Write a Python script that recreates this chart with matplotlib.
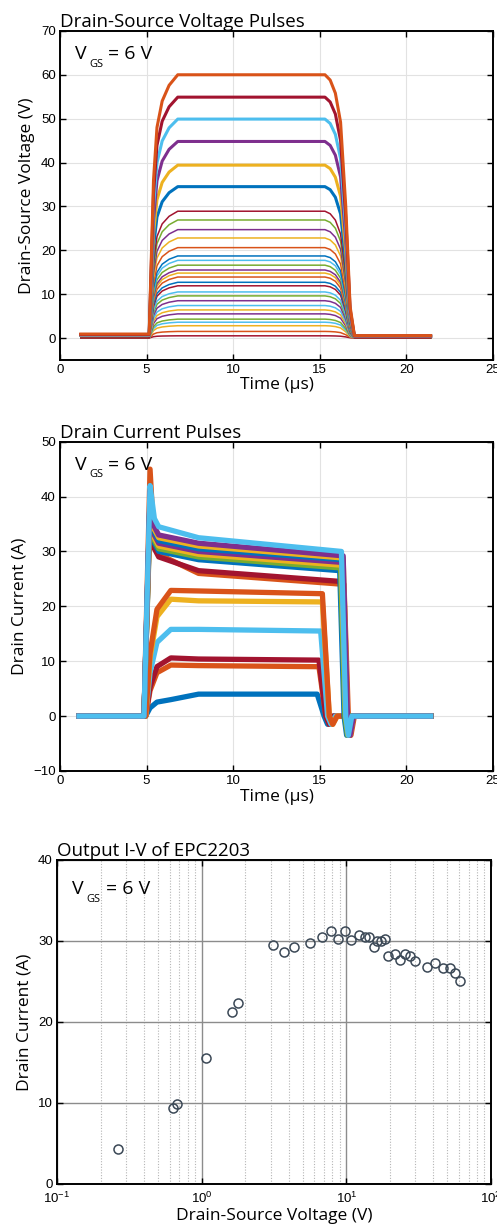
import numpy as np
import matplotlib
matplotlib.use("Agg")
import matplotlib.pyplot as plt
from matplotlib.transforms import offset_copy

plt.rcParams['font.family'] = ['Liberation Sans', 'DejaVu Sans']

LABEL_FONT = 'Open Sans'

# matlab colour order
BLU, ORA, YEL, PUR, GRN, LBL, DRD = ('#0072BD', '#D95319', '#EDB120', '#7E2F8E',
                                     '#77AC30', '#4DBEEE', '#A2142F')

# ---- drain-source voltage pulses (plateau levels, V) ----
vds_levels = [0.5, 1.5, 2.8, 3.6, 4.3, 5.5, 6.4, 7.4, 8.5, 9.6, 10.5, 11.9, 12.7,
              13.9, 14.8, 15.5, 16.6, 17.7, 18.7, 20.6, 22.8, 24.7, 26.9, 28.9,
              34.5, 39.4, 44.8, 49.9, 54.9, 60.0]
vds_colors = [DRD, ORA, YEL, LBL, GRN, PUR, YEL, LBL, PUR, GRN, LBL, DRD, BLU,
              ORA, YEL, PUR, GRN, LBL, BLU, ORA, YEL, PUR, GRN, DRD,
              BLU, YEL, PUR, LBL, DRD, ORA]
vds_base = [0.0] * 24 + [0.6, 0.6, 0.7, 0.7, 0.8, 0.9]
# shared pulse outline (time in us, fraction of plateau)
pulse_t = [1.2, 5.15, 5.25, 5.4, 5.6, 5.9, 6.3, 6.8, 15.3, 15.6, 15.9, 16.2,
           16.5, 16.75, 17.0, 21.4]
pulse_frac = [0.0, 0.0, 0.25, 0.6, 0.8, 0.9, 0.96, 1.0, 1.0, 0.98, 0.93, 0.82,
              0.5, 0.12, 0.0, 0.0]

# ---- drain current pulses (A) ----
# start of plateau, middle (t=8us), end (t~15us), fall time, spike peak
id_start = [3.0, 9.3, 10.6, 15.8, 21.3, 22.9, 29.5, 29.0, 30.0, 30.5, 31.0,
            31.5, 32.0, 32.5, 33.0, 34.5]
id_mid = [4.0, 9.2, 10.4, 15.8, 21.0, 22.8, 26.0, 26.5, 28.5, 29.0, 29.5,
          30.0, 30.5, 31.0, 31.5, 32.5]
id_end = [4.0, 9.0, 10.2, 15.5, 20.8, 22.3, 24.0, 24.5, 26.5, 27.0, 27.5,
          28.0, 28.5, 28.8, 29.2, 30.0]
id_fall = [15.0, 15.1, 15.1, 15.2, 15.3, 15.3, 16.55, 16.5, 16.3, 16.35, 16.4,
           16.45, 16.45, 16.5, 16.5, 16.4]
id_spike = [0, 0, 0, 0, 0, 0, 45, 40, 38, 36, 39, 37, 40, 38, 41, 42]
id_colors = [BLU, ORA, DRD, LBL, YEL, ORA, ORA, DRD, BLU, GRN, YEL, PUR, BLU,
             YEL, PUR, LBL]

# ---- output I-V ----
iv_vds = [0.265, 0.637, 0.675, 1.066, 1.63, 1.77, 3.09, 3.70, 4.36, 5.63, 6.78,
          7.79, 8.75, 9.84, 10.7, 12.2, 13.4, 14.4, 15.5, 16.3, 17.5, 18.4,
          19.5, 21.6, 23.4, 25.6, 27.6, 29.7, 36.4, 40.7, 46.5, 51.7, 56.3, 61.3]
iv_id = [4.3, 9.4, 9.9, 15.6, 21.2, 22.3, 29.5, 28.6, 29.2, 29.7, 30.5,
         31.2, 30.2, 31.2, 30.1, 30.7, 30.5, 30.5, 29.3, 30.0, 30.0, 30.2,
         28.2, 28.4, 27.7, 28.4, 28.2, 27.5, 26.8, 27.3, 26.7, 26.7, 26.0, 25.0]


def style_box(ax):
    for s in ax.spines.values():
        s.set_linewidth(1.4)
        s.set_color('black')
    ax.tick_params(direction='in', top=True, right=True, length=4, width=1,
                   labelsize=9.5, pad=3)


def vgs_label(ax, y):
    base = ax.transAxes
    ax.text(0.035, y, 'V', transform=base, fontsize=14, family=LABEL_FONT,
            va='baseline', ha='left')
    ax.text(0.035, y, 'GS', transform=offset_copy(base, fig, x=10.5, y=-5.5, units='points'),
            fontsize=8, family=LABEL_FONT, va='baseline', ha='left')
    ax.text(0.035, y, '= 6 V', transform=offset_copy(base, fig, x=24, y=0, units='points'),
            fontsize=14, family=LABEL_FONT, va='baseline', ha='left')


fig = plt.figure(figsize=(4.97, 12.31), dpi=100)

# -------- top: voltage pulses --------
ax1 = fig.add_axes([0.1207, 0.7076, 0.8712, 0.2673])
ax1.grid(True, color='#e2e2e2', lw=0.8)
ax1.set_axisbelow(True)
for lev, b, c in zip(vds_levels, vds_base, vds_colors):
    lw = 2.2 if lev > 30 else 1.1
    v = np.array(pulse_frac) * lev
    v[[0, 1]] = b
    v[[-2, -1]] = b * 0.6
    ax1.plot(pulse_t, v, color=c, lw=lw)
ax1.set_xlim(0, 25)
ax1.set_ylim(-5, 70)
ax1.set_xticks([0, 5, 10, 15, 20, 25])
ax1.set_yticks([0, 10, 20, 30, 40, 50, 60, 70])
style_box(ax1)
ax1.set_title('Drain-Source Voltage Pulses', loc='left', family=LABEL_FONT,
              fontsize=13.5, pad=3)
ax1.set_xlabel('Time (\u03bcs)', family=LABEL_FONT, fontsize=12.5, labelpad=1)
ax1.set_ylabel('Drain-Source Voltage (V)', family=LABEL_FONT, fontsize=12.5,
               labelpad=4)
vgs_label(ax1, 0.915)

# -------- middle: current pulses --------
ax2 = fig.add_axes([0.1207, 0.3737, 0.8712, 0.2675])
ax2.grid(True, color='#e2e2e2', lw=0.8)
ax2.set_axisbelow(True)
for a, m, e, tf, sp, c in zip(id_start, id_mid, id_end, id_fall, id_spike, id_colors):
    if sp:
        t = [1.1, 4.85, 5.2, 5.45, 5.7, 8.0, tf - 0.15, tf + 0.1, tf + 0.25, tf + 0.45, 21.4]
        v = [0.0, 0.0, sp, a + 1.5, a, m, e, 0.0, -3.5, 0.0, 0.0]
    else:
        t = [1.1, 4.95, 5.2, 5.6, 6.4, 8.0, tf - 0.15, tf + 0.25, tf + 0.45, tf + 0.7, 21.4]
        v = [0.0, 0.0, 0.5 * a, 0.85 * a, a, m, e, 0.0, -1.5, 0.0, 0.0]
    ax2.plot(t, v, color=c, lw=3.8, solid_joinstyle='round')
ax2.set_xlim(0, 25)
ax2.set_ylim(-10, 50)
ax2.set_xticks([0, 5, 10, 15, 20, 25])
ax2.set_yticks([-10, 0, 10, 20, 30, 40, 50])
style_box(ax2)
ax2.set_title('Drain Current Pulses', loc='left', family=LABEL_FONT,
              fontsize=13.5, pad=3)
ax2.set_xlabel('Time (\u03bcs)', family=LABEL_FONT, fontsize=12.5, labelpad=1)
ax2.set_ylabel('Drain Current (A)', family=LABEL_FONT, fontsize=12.5, labelpad=4)
vgs_label(ax2, 0.915)

# -------- bottom: output I-V --------
ax3 = fig.add_axes([0.1147, 0.0382, 0.8732, 0.2632])
ax3.set_xscale('log')
ax3.set_xlim(0.1, 100)
ax3.set_ylim(0, 40)
ax3.set_yticks([0, 10, 20, 30, 40])
ax3.grid(True, which='major', color='#8c8c8c', lw=1.0)
ax3.grid(True, which='minor', axis='x', color='#b5b5b5', lw=0.8, ls=(0, (1, 1.5)))
ax3.set_axisbelow(True)
ax3.plot(iv_vds, iv_id, 'o', ms=6.5, mfc='none', mec='#3b4856', mew=1.1)
style_box(ax3)
ax3.tick_params(which='minor', length=0)
ax3.tick_params(axis='x', pad=5)
ax3.set_title('Output I-V of EPC2203', loc='left', family=LABEL_FONT,
              fontsize=13.5, pad=3)
ax3.set_xlabel('Drain-Source Voltage (V)', family=LABEL_FONT, fontsize=12.5,
               labelpad=1)
ax3.set_ylabel('Drain Current (A)', family=LABEL_FONT, fontsize=12.5, labelpad=4)
vgs_label(ax3, 0.895)

fig.savefig('out.png', dpi=100)
